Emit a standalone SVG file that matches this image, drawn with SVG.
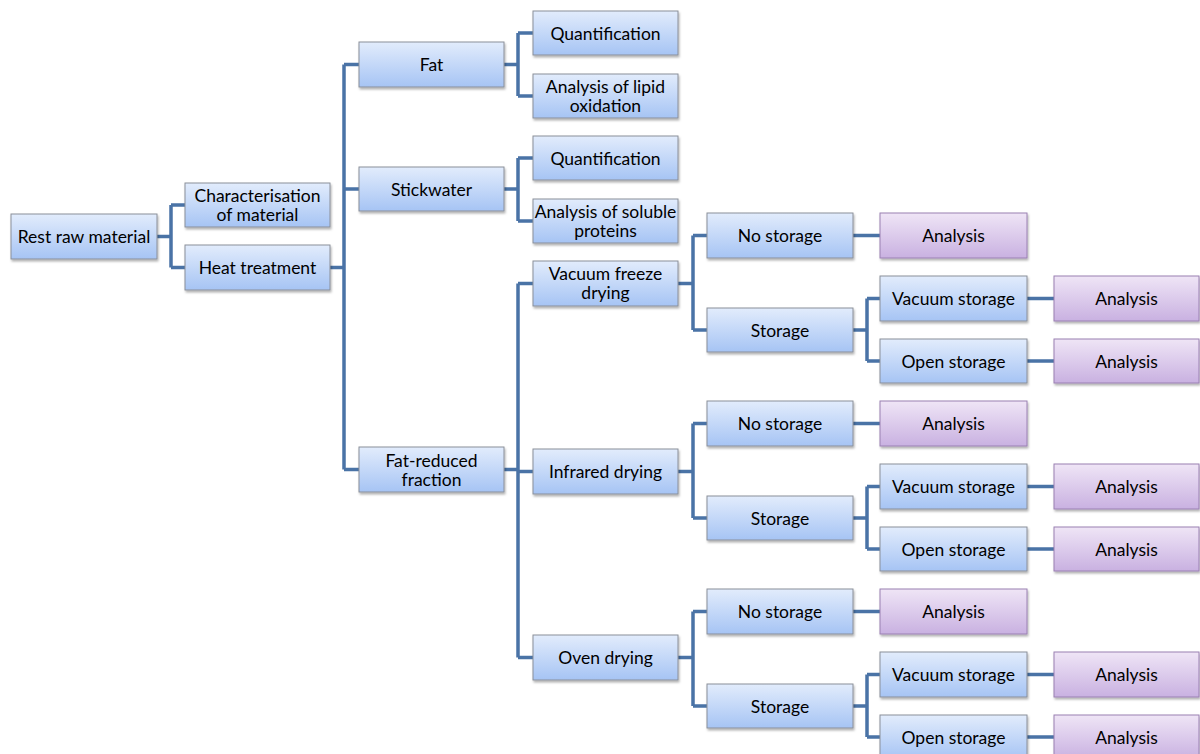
<svg xmlns="http://www.w3.org/2000/svg" width="1200" height="754" viewBox="0 0 1200 754">
<defs>
<linearGradient id="gb" x1="0" y1="0" x2="0" y2="1">
<stop offset="0" stop-color="#e2ecfc"/>
<stop offset="1" stop-color="#a6c4f4"/>
</linearGradient>
<linearGradient id="gp" x1="0" y1="0" x2="0" y2="1">
<stop offset="0" stop-color="#efe5f6"/>
<stop offset="1" stop-color="#c9b1e1"/>
</linearGradient>
<filter id="sh" x="-5%" y="-10%" width="115%" height="130%">
<feDropShadow dx="1" dy="2" stdDeviation="1.2" flood-color="#000" flood-opacity="0.3"/>
</filter>
</defs>
<style>
.b{fill:url(#gb);stroke:#8a8f99;stroke-width:1;filter:url(#sh)}
.p{fill:url(#gp);stroke:#9a80b2;stroke-width:1;filter:url(#sh)}
text{font-family:Lato,"Open Sans","Liberation Sans",sans-serif;font-size:17.5px;fill:#000;text-anchor:middle}
.c{fill:none;stroke:#4a73a6;stroke-width:3.5;stroke-linejoin:miter}
</style>
<rect width="1200" height="754" fill="#fff"/>
<g id="connectors">
<path class="c" d="M157 236.5H171M171 205V267.5M171 205H185M171 267.5H185"/>
<path class="c" d="M330 267.5H344M344 64.5V469.5M344 64.5H359M344 189H359M344 469.5H359"/>
<path class="c" d="M504 64.5H518M518 33V96M518 33H533M518 96H533"/>
<path class="c" d="M504 189H518M518 158V221M518 158H533M518 221H533"/>
<path class="c" d="M504 469.5H518M518 283.5V657.5M518 283.5H533M518 471.5H533M518 657.5H533"/>
<path class="c" d="M678 283.5H693M693 235.5V330M693 235.5H707M693 330H707"/>
<path class="c" d="M678 471.5H693M693 423.5V518M693 423.5H707M693 518H707"/>
<path class="c" d="M678 657.5H693M693 611.5V706M693 611.5H707M693 706H707"/>
<path class="c" d="M853 235.5H880M853 423.5H880M853 611.5H880"/>
<path class="c" d="M853 330H867M867 298.5V361M867 298.5H880M867 361H880"/>
<path class="c" d="M853 518H867M867 486.5V549M867 486.5H880M867 549H880"/>
<path class="c" d="M853 706H867M867 674.5V737M867 674.5H880M867 737H880"/>
<path class="c" d="M1027 298.5H1054M1027 361H1054M1027 486.5H1054M1027 549H1054M1027 674.5H1054M1027 737H1054"/>
</g>
<g id="n-rest"><rect class="b" x="11" y="214" width="146" height="45"/><text x="84" y="243">Rest raw material</text></g>
<g id="n-char"><rect class="b" x="185" y="183" width="145" height="44"/><text x="257.5" y="202">Characterisation</text><text x="257.5" y="221">of material</text></g>
<g id="n-heat"><rect class="b" x="185" y="245" width="145" height="45"/><text x="257.5" y="274">Heat treatment</text></g>
<g id="n-fat"><rect class="b" x="359" y="42" width="145" height="45"/><text x="431.5" y="71">Fat</text></g>
<g id="n-stick"><rect class="b" x="359" y="167" width="145" height="44"/><text x="431.5" y="195.5">Stickwater</text></g>
<g id="n-fatred"><rect class="b" x="359" y="447" width="145" height="45"/><text x="431.5" y="466.5">Fat-reduced</text><text x="431.5" y="485.5">fraction</text></g>
<g id="n-quant1"><rect class="b" x="533" y="11" width="145" height="44"/><text x="605.5" y="39.5">Quantification</text></g>
<g id="n-lipid"><rect class="b" x="533" y="74" width="145" height="44"/><text x="605.5" y="92.5">Analysis of lipid</text><text x="605.5" y="111.5">oxidation</text></g>
<g id="n-quant2"><rect class="b" x="533" y="136" width="145" height="44"/><text x="605.5" y="164.5">Quantification</text></g>
<g id="n-soluble"><rect class="b" x="533" y="199" width="145" height="44"/><text x="605.5" y="217.5">Analysis of soluble</text><text x="605.5" y="236.5">proteins</text></g>
<g id="n-vfd"><rect class="b" x="533" y="261" width="145" height="45"/><text x="605.5" y="279.5">Vacuum freeze</text><text x="605.5" y="298.5">drying</text></g>
<g id="n-ir"><rect class="b" x="533" y="449" width="145" height="45"/><text x="605.5" y="478">Infrared drying</text></g>
<g id="n-oven"><rect class="b" x="533" y="635" width="145" height="45"/><text x="605.5" y="664">Oven drying</text></g>
<g id="n-ns1"><rect class="b" x="707" y="213" width="146" height="45"/><text x="780" y="242">No storage</text></g>
<g id="n-st1"><rect class="b" x="707" y="308" width="146" height="44"/><text x="780" y="336.5">Storage</text></g>
<g id="n-ns2"><rect class="b" x="707" y="401" width="146" height="45"/><text x="780" y="430">No storage</text></g>
<g id="n-st2"><rect class="b" x="707" y="496" width="146" height="44"/><text x="780" y="524.5">Storage</text></g>
<g id="n-ns3"><rect class="b" x="707" y="589" width="146" height="45"/><text x="780" y="618">No storage</text></g>
<g id="n-st3"><rect class="b" x="707" y="684" width="146" height="44"/><text x="780" y="712.5">Storage</text></g>
<g id="n-a1"><rect class="p" x="880" y="213" width="147" height="45"/><text x="953.5" y="242">Analysis</text></g>
<g id="n-vs1"><rect class="b" x="880" y="276" width="147" height="45"/><text x="953.5" y="305">Vacuum storage</text></g>
<g id="n-os1"><rect class="b" x="880" y="339" width="147" height="44"/><text x="953.5" y="367.5">Open storage</text></g>
<g id="n-a2"><rect class="p" x="880" y="401" width="147" height="45"/><text x="953.5" y="430">Analysis</text></g>
<g id="n-vs2"><rect class="b" x="880" y="464" width="147" height="45"/><text x="953.5" y="493">Vacuum storage</text></g>
<g id="n-os2"><rect class="b" x="880" y="527" width="147" height="44"/><text x="953.5" y="555.5">Open storage</text></g>
<g id="n-a3"><rect class="p" x="880" y="589" width="147" height="45"/><text x="953.5" y="618">Analysis</text></g>
<g id="n-vs3"><rect class="b" x="880" y="652" width="147" height="45"/><text x="953.5" y="681">Vacuum storage</text></g>
<g id="n-os3"><rect class="b" x="880" y="715" width="147" height="44"/><text x="953.5" y="743.5">Open storage</text></g>
<g id="n-a4"><rect class="p" x="1054" y="276" width="145" height="45"/><text x="1126.5" y="305">Analysis</text></g>
<g id="n-a5"><rect class="p" x="1054" y="339" width="145" height="44"/><text x="1126.5" y="367.5">Analysis</text></g>
<g id="n-a6"><rect class="p" x="1054" y="464" width="145" height="45"/><text x="1126.5" y="493">Analysis</text></g>
<g id="n-a7"><rect class="p" x="1054" y="527" width="145" height="44"/><text x="1126.5" y="555.5">Analysis</text></g>
<g id="n-a8"><rect class="p" x="1054" y="652" width="145" height="45"/><text x="1126.5" y="681">Analysis</text></g>
<g id="n-a9"><rect class="p" x="1054" y="715" width="145" height="44"/><text x="1126.5" y="743.5">Analysis</text></g>
</svg>
